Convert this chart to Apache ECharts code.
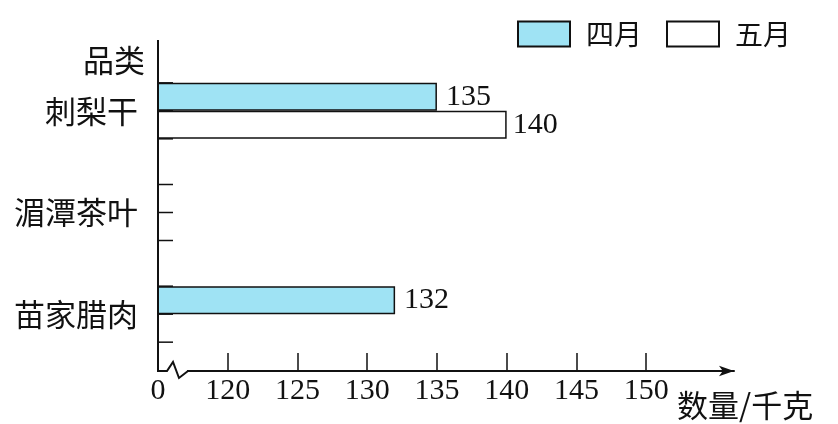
<!DOCTYPE html>
<html>
<head>
<meta charset="utf-8">
<script src="https://cdn.jsdelivr.net/npm/echarts@6/dist/echarts.min.js"></script>
<style>
  html, body { margin: 0; padding: 0; background: #fff; }
  #chart { width: 838px; height: 424px; }
</style>
</head>
<body>
<div id="chart"></div>
<script>
// data (湄潭茶叶 has no bars yet)
var categories = ['刺梨干', '湄潭茶叶', '苗家腊肉'];
var aprilValues = [135, '-', 132];
var mayValues = [140, '-', '-'];
var tickValues = [120, 125, 130, 135, 140, 145, 150];
var labelValues = [115, 120, 125, 130, 135, 140, 145, 150];

// broken axis: the left end (115) is printed as 0
var xMin = 115;
var xMax = 156.3;
var barW = 28;
var ink = '#111';
var numFont = "'Liberation Serif', 'Noto Sans CJK SC', serif";
var cjkFont = "'Noto Sans CJK SC', sans-serif";

var myChart = echarts.init(document.getElementById('chart'));
myChart.setOption({
    animation: false,
    backgroundColor: '#fff',
    grid: { left: 158, right: 104, top: 60, bottom: 59 },
    legend: {
        left: 512,
        top: 15,
        itemWidth: 52,
        itemHeight: 25,
        itemGap: 24,
        icon: 'rect',
        textStyle: { fontSize: 28, fontFamily: cjkFont, color: ink, padding: [0, 0, 0, 11] },
        data: ['四月', '五月']
    },
    xAxis: {
        type: 'value',
        min: xMin,
        max: xMax,
        offset: 6,
        splitLine: { show: false },
        axisLine: {
            show: true,
            symbol: ['none', 'arrow'],
            symbolSize: [8, 15],
            lineStyle: { color: ink, width: 2 }
        },
        axisTick: {
            show: true,
            inside: true,
            length: 18,
            customValues: tickValues,
            lineStyle: { color: ink, width: 1.5 }
        },
        axisLabel: {
            customValues: labelValues,
            margin: 5,
            fontSize: 30,
            fontFamily: numFont,
            color: ink,
            formatter: function (v) { return v === xMin ? '0' : String(v); }
        },
        name: '数量/千克',
        nameLocation: 'end',
        nameGap: -57,
        nameTextStyle: {
            fontSize: 31,
            fontFamily: cjkFont,
            color: ink,
            align: 'left',
            verticalAlign: 'top',
            padding: [19, 0, 0, 0]
        }
    },
    yAxis: {
        type: 'category',
        inverse: true,
        data: categories,
        axisLine: { show: false },
        axisTick: { show: false },
        axisLabel: { margin: 20, fontSize: 31, fontFamily: cjkFont, color: ink },
        name: '品类',
        nameLocation: 'start',
        nameGap: 0,
        nameTextStyle: {
            fontSize: 31,
            fontFamily: cjkFont,
            color: ink,
            align: 'right',
            verticalAlign: 'middle',
            padding: [6, 13, 0, 0]
        }
    },
    series: [
        {
            name: '四月',
            type: 'bar',
            barWidth: barW,
            barGap: '0%',
            z: 3,
            itemStyle: { color: '#9fe3f4', borderColor: ink, borderWidth: 1.5 },
            label: { show: true, position: 'right', distance: 9, fontSize: 30, fontFamily: numFont, color: ink },
            data: aprilValues
        },
        {
            name: '五月',
            type: 'bar',
            barWidth: barW,
            barGap: '0%',
            z: 3,
            itemStyle: { color: '#fff', borderColor: ink, borderWidth: 1.5 },
            label: { show: true, position: 'right', distance: 6, fontSize: 30, fontFamily: numFont, color: ink },
            data: mayValues
        },
        {
            // short marks on the category axis at each bar slot edge
            type: 'custom',
            z: 1,
            silent: true,
            encode: { x: 0, y: 1 },
            data: categories.map(function (c) { return [xMin, c]; }),
            renderItem: function (params, api) {
                var p = api.coord([api.value(0), api.value(1)]);
                return {
                    type: 'group',
                    children: [-barW, 0, barW].map(function (d) {
                        return {
                            type: 'line',
                            shape: { x1: p[0], y1: p[1] + d, x2: p[0] + 15, y2: p[1] + d },
                            style: { stroke: ink, lineWidth: 1.5 }
                        };
                    })
                };
            }
        }
    ],
    graphic: [
        {
            type: 'rect',
            z: 100,
            shape: { x: 159, y: 367, width: 28, height: 8 },
            style: { fill: '#fff' }
        },
        {
            // vertical axis with the break mark at its foot
            type: 'polyline',
            z: 101,
            shape: { points: [[158, 40], [158, 371], [167, 371], [173, 362], [179, 378], [188, 371]] },
            style: { stroke: ink, lineWidth: 2, fill: null }
        }
    ]
});
</script>
</body>
</html>
